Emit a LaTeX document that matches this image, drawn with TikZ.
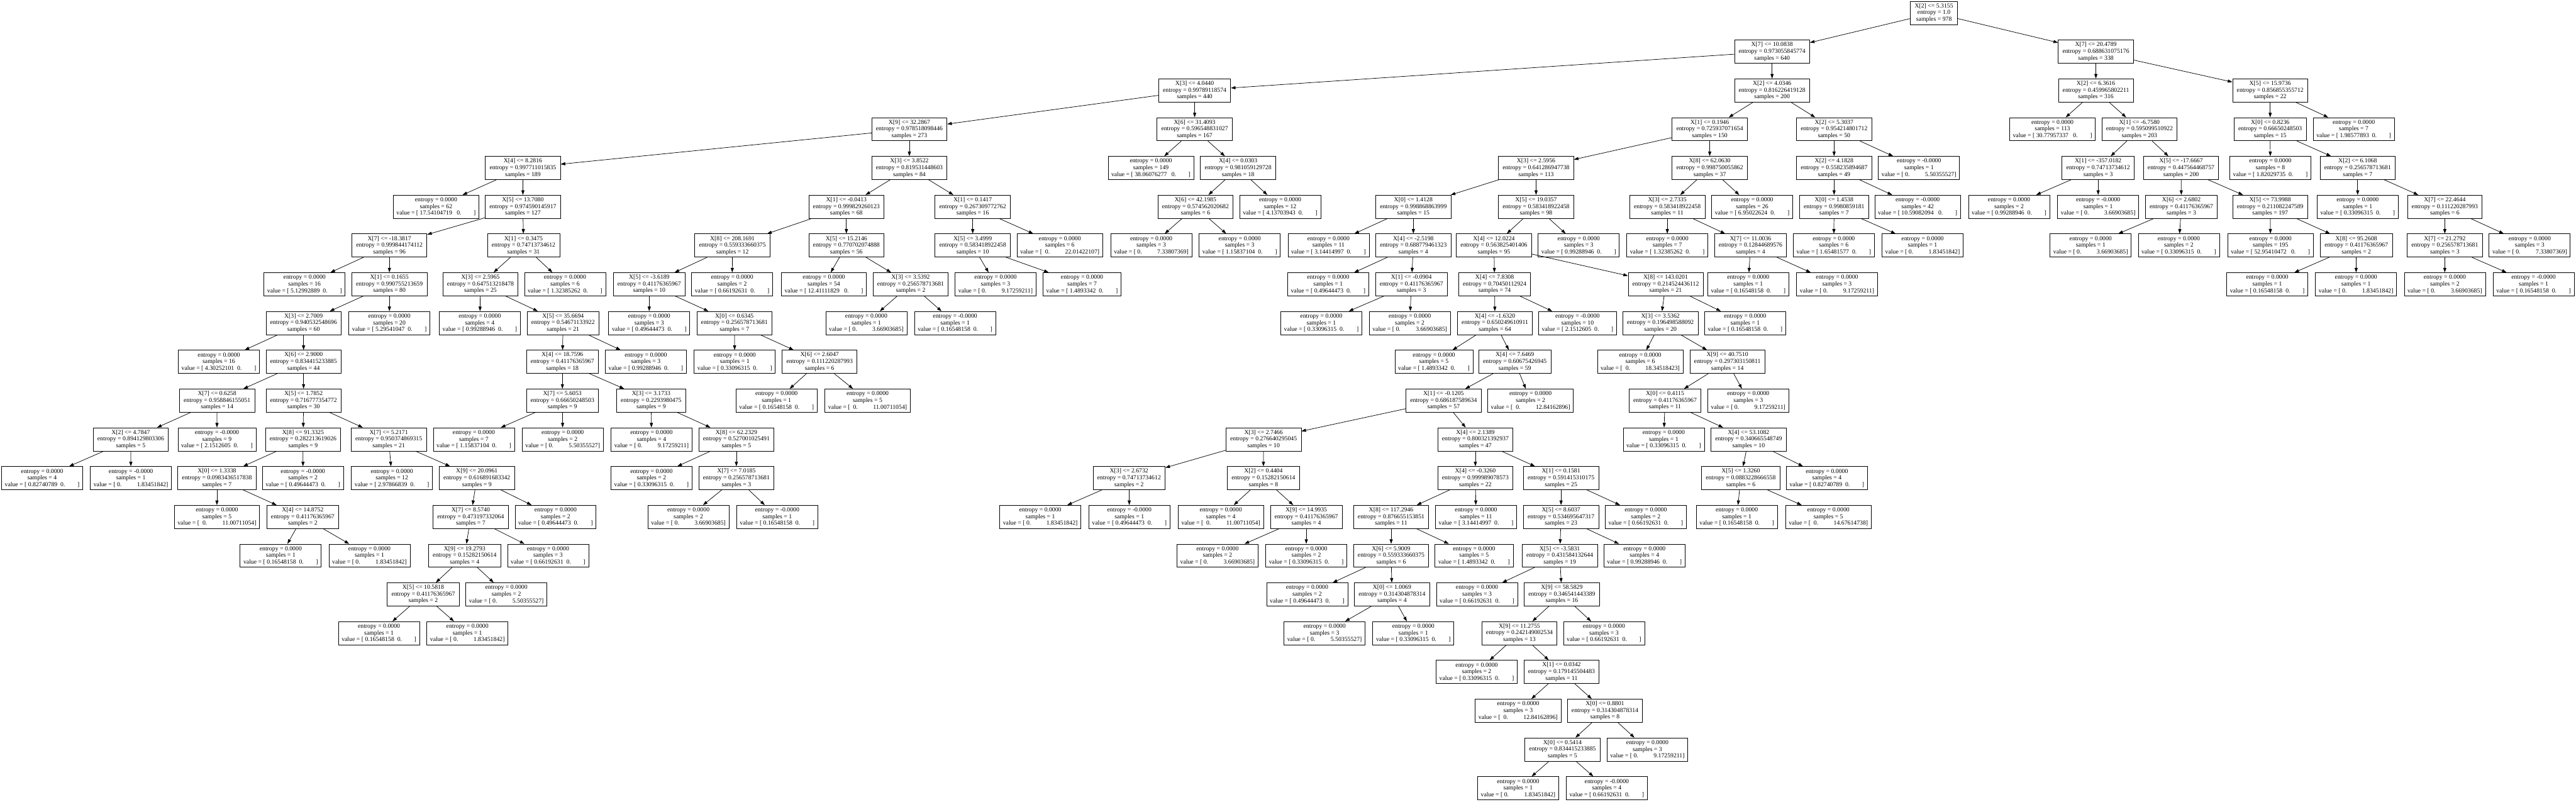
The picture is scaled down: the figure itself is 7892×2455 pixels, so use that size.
\documentclass[tikz,border=0pt]{standalone}
\usepackage{fontspec}
\setmainfont{Liberation Serif}
\usetikzlibrary{arrows.meta}
\newcommand{\TSp}[1]{\kern#1\fontdimen2\font}
\newcommand{\TDn}[3]{#1\\entropy = #2\\samples = #3}
\newcommand{\TLa}[3]{entropy = #1\\samples = #2\\value = [\TSp{1}#3\TSp{2}0.\TSp{8}]}
\newcommand{\TLb}[3]{entropy = #1\\samples = #2\\value = [\TSp{1}#3\TSp{3}0.\TSp{8}]}
\newcommand{\TRa}[3]{entropy = #1\\samples = #2\\value = [\TSp{1}0.\TSp{10}#3]}
\newcommand{\TRb}[3]{entropy = #1\\samples = #2\\value = [\TSp{2}0.\TSp{10}#3]}
\tikzset{
  tn/.style={draw=black, line width=0.4pt, rectangle, align=center, inner ysep=0pt,
    minimum height=0.71cm, font=\fontsize{5.35}{5.83}\selectfont},
  dn/.style={tn, inner xsep=0.13cm},
  lf/.style={tn, inner xsep=0.1cm},
  ed/.style={-{Triangle[length=0.14cm,width=0.095cm]}, line width=0.4pt},
}
\begin{document}
\begin{tikzpicture}[x=0.01cm, y=-0.01cm]
\useasboundingbox (0,0) rectangle (7892,2455);
% level 0
\node[dn, minimum width=1.39cm] (r) at (5925,39.5) {\TDn{X[2] <= 5.3155}{1.0}{978}};
% level 1
\node[dn] (a) at (5429,158.25) {\TDn{X[7] <= 10.0838}{0.973055845774}{640}};
\node[dn] (b) at (6421,158.25) {\TDn{X[7] <= 20.4789}{0.688631075176}{338}};
% level 2
\node[dn] (aa) at (3660,277) {\TDn{X[3] <= 4.0440}{0.99789118574}{440}};
\node[dn] (ab) at (5429,277) {\TDn{X[2] <= 4.0346}{0.816226419128}{200}};
\node[dn] (ba) at (6421,277) {\TDn{X[2] <= 6.3616}{0.459965802211}{316}};
\node[dn] (bb) at (6955,277) {\TDn{X[5] <= 15.9736}{0.856855355712}{22}};
% level 3
\node[dn] (aaa) at (2786,395.75) {\TDn{X[9] <= 32.2867}{0.978518098446}{273}};
\node[dn] (aab) at (3660,395.75) {\TDn{X[6] <= 31.4093}{0.596548831027}{167}};
\node[dn] (aba) at (5238,395.75) {\TDn{X[1] <= 0.1946}{0.725937071654}{150}};
\node[dn] (abb) at (5619,395.75) {\TDn{X[2] <= 5.3037}{0.954214801712}{50}};
\node[lf] (baa) at (6288,395.75) {\TLb{0.0000}{113}{30.77957337}};
\node[dn] (bab) at (6554.5,395.75) {\TDn{X[1] <= -6.7580}{0.595099510922}{203}};
\node[dn] (bba) at (6955,395.75) {\TDn{X[0] <= 0.8236}{0.66650248503}{15}};
\node[lf] (bbb) at (7211,395.75) {\TLa{0.0000}{7}{1.98577893}};
% level 4
\node[dn] (c1) at (1602,514.5) {\TDn{X[4] <= 8.2816}{0.997711015835}{189}};
\node[dn] (c2) at (2786,514.5) {\TDn{X[3] <= 3.8522}{0.819531448603}{84}};
\node[lf] (c3) at (3526,514.5) {\TLb{0.0000}{149}{38.06076277}};
\node[dn] (c4) at (3793,514.5) {\TDn{X[4] <= 0.0303}{0.981059129728}{18}};
\node[dn] (c5) at (4706,514.5) {\TDn{X[3] <= 2.5956}{0.641286947738}{113}};
\node[dn] (c6) at (5238,514.5) {\TDn{X[8] <= 62.0630}{0.998750055862}{37}};
\node[dn] (c7) at (5619,514.5) {\TDn{X[2] <= 4.1828}{0.558235894687}{49}};
\node[lf] (c8) at (5879,514.5) {\TRa{-0.0000}{1}{5.50355527}};
\node[dn] (c9) at (6428,514.5) {\TDn{X[1] <= -357.0182}{0.74713734612}{3}};
\node[dn] (c10) at (6682,514.5) {\TDn{X[5] <= -17.6667}{0.447564468757}{200}};
\node[lf] (c11) at (6955.5,514.5) {\TLa{0.0000}{8}{1.82029735}};
\node[dn] (c12) at (7223,514.5) {\TDn{X[2] <= 6.1068}{0.256578713681}{7}};
% level 5
\node[lf] (d1) at (1336,633.25) {\TLb{0.0000}{62}{17.54104719}};
\node[dn] (d2) at (1602,633.25) {\TDn{X[5] <= 13.7080}{0.974590145917}{127}};
\node[dn] (d3) at (2593,633.25) {\TDn{X[1] <= -0.0413}{0.999829260123}{68}};
\node[dn] (d4) at (2980,633.25) {\TDn{X[1] <= 0.1417}{0.267309772762}{16}};
\node[dn] (d5) at (3662.5,633.25) {\TDn{X[6] <= 42.1985}{0.574562020682}{6}};
\node[lf] (d6) at (3922,633.25) {\TLa{0.0000}{12}{4.13703943}};
\node[dn] (d7) at (4330,633.25) {\TDn{X[0] <= 1.4128}{0.998868863999}{15}};
\node[dn] (d8) at (4706,633.25) {\TDn{X[5] <= 19.0357}{0.583418922458}{98}};
\node[dn] (d9) at (5108,633.25) {\TDn{X[3] <= 2.7335}{0.583418922458}{11}};
\node[lf] (d10) at (5368,633.25) {\TLa{0.0000}{26}{6.95022624}};
\node[dn] (d11) at (5619,633.25) {\TDn{X[0] <= 1.4538}{0.9980859181}{7}};
\node[lf] (d12) at (5875,633.25) {\TLb{-0.0000}{42}{10.59082094}};
\node[lf] (d13) at (6155,633.25) {\TLa{0.0000}{2}{0.99288946}};
\node[lf] (d14) at (6428,633.25) {\TRa{-0.0000}{1}{3.66903685}};
\node[dn] (d15) at (6683,633.25) {\TDn{X[6] <= 2.6802}{0.41176365967}{3}};
\node[dn] (d16) at (6955,633.25) {\TDn{X[5] <= 73.9988}{0.211082247589}{197}};
\node[lf] (d17) at (7223,633.25) {\TLa{0.0000}{1}{0.33096315}};
\node[dn] (d18) at (7490,633.25) {\TDn{X[7] <= 22.4644}{0.111220287993}{6}};
% level 6
\node[dn] (e1) at (1193,752) {\TDn{X[7] <= -18.3817}{0.999844174112}{96}};
\node[dn] (e2) at (1604,752) {\TDn{X[1] <= 0.3475}{0.74713734612}{31}};
\node[dn] (e3) at (2244,752) {\TDn{X[8] <= 208.1691}{0.559333660375}{12}};
\node[dn] (e4) at (2593,752) {\TDn{X[5] <= 15.2146}{0.770702074888}{56}};
\node[dn] (e5) at (2980,752) {\TDn{X[5] <= 3.4999}{0.583418922458}{10}};
\node[lf] (e6) at (3247,752) {\TRb{0.0000}{6}{22.01422107}};
\node[lf] (e7) at (3527,752) {\TRa{0.0000}{3}{7.33807369}};
\node[lf] (e8) at (3798,752) {\TLa{0.0000}{3}{1.15837104}};
\node[lf] (e9) at (4070,752) {\TLa{0.0000}{11}{3.14414997}};
\node[dn] (e10) at (4330,752) {\TDn{X[4] <= -2.5198}{0.688779461323}{4}};
\node[dn] (e11) at (4577,752) {\TDn{X[4] <= 12.0224}{0.563825401406}{95}};
\node[lf] (e12) at (4836.6,752) {\TLa{0.0000}{3}{0.99288946}};
\node[lf] (e13) at (5108,752) {\TLa{0.0000}{7}{1.32385262}};
\node[dn] (e14) at (5363,752) {\TDn{X[7] <= 11.0036}{0.12844689576}{4}};
\node[lf] (e15) at (5618,752) {\TLa{0.0000}{6}{1.65481577}};
\node[lf] (e16) at (5890,752) {\TRa{0.0000}{1}{1.83451842}};
\node[lf] (e17) at (6405,752) {\TRa{0.0000}{1}{3.66903685}};
\node[lf] (e18) at (6675,752) {\TLa{0.0000}{2}{0.33096315}};
\node[lf] (e19) at (6956,752) {\TLb{0.0000}{195}{52.95410472}};
\node[dn] (e20) at (7219,752) {\TDn{X[8] <= 95.2608}{0.41176365967}{2}};
\node[dn] (e21) at (7490,752) {\TDn{X[7] <= 21.2792}{0.256578713681}{3}};
\node[lf] (e22) at (7750,752) {\TRa{0.0000}{3}{7.33807369}};
% level 7
\node[lf] (f1) at (933,870.75) {\TLa{0.0000}{16}{5.12992889}};
\node[dn] (f2) at (1193,870.75) {\TDn{X[1] <= 0.1655}{0.990755213659}{80}};
\node[dn] (f3) at (1472,870.75) {\TDn{X[3] <= 2.5965}{0.647513218478}{25}};
\node[lf] (f4) at (1731,870.75) {\TLa{0.0000}{6}{1.32385262}};
\node[dn] (f5) at (1989,870.75) {\TDn{X[5] <= -3.6189}{0.41176365967}{10}};
\node[lf] (f6) at (2243,870.75) {\TLa{0.0000}{2}{0.66192631}};
\node[lf] (f7) at (2524,870.75) {\TLb{0.0000}{54}{12.41111829}};
\node[dn] (f8) at (2790,870.75) {\TDn{X[3] <= 3.5392}{0.256578713681}{2}};
\node[lf] (f9) at (3050,870.75) {\TRa{0.0000}{3}{9.17259211}};
\node[lf] (f10) at (3315,870.75) {\TLa{0.0000}{7}{1.4893342}};
\node[lf] (f11) at (4069,870.75) {\TLa{0.0000}{1}{0.49644473}};
\node[dn] (f12) at (4324,870.75) {\TDn{X[1] <= -0.0904}{0.41176365967}{3}};
\node[dn] (f13) at (4579,870.75) {\TDn{X[4] <= 7.8308}{0.70450112924}{74}};
\node[dn] (f14) at (5103,870.75) {\TDn{X[8] <= 143.0201}{0.214524436112}{21}};
\node[lf] (f15) at (5356,870.75) {\TLa{0.0000}{1}{0.16548158}};
\node[lf] (f16) at (5628,870.75) {\TRa{0.0000}{3}{9.17259211}};
\node[lf] (f17) at (6946,870.75) {\TLa{0.0000}{1}{0.16548158}};
\node[lf] (f18) at (7218,870.75) {\TRa{0.0000}{1}{1.83451842}};
\node[lf] (f19) at (7490,870.75) {\TRa{0.0000}{2}{3.66903685}};
\node[lf] (f20) at (7762,870.75) {\TLa{-0.0000}{1}{0.16548158}};
% level 8
\node[dn] (g1) at (930,989.5) {\TDn{X[3] <= 2.7009}{0.940532548696}{60}};
\node[lf] (g2) at (1193,989.5) {\TLa{0.0000}{20}{5.29541047}};
\node[lf] (g3) at (1470,989.5) {\TLa{0.0000}{4}{0.99288946}};
\node[dn] (g4) at (1725,989.5) {\TDn{X[5] <= 35.6694}{0.54671133922}{21}};
\node[lf] (g5) at (1989,989.5) {\TLa{0.0000}{3}{0.49644473}};
\node[dn] (g6) at (2250,989.5) {\TDn{X[0] <= 0.6345}{0.256578713681}{7}};
\node[lf] (g7) at (2654,989.5) {\TRa{0.0000}{1}{3.66903685}};
\node[lf] (g8) at (2926,989.5) {\TLa{-0.0000}{1}{0.16548158}};
\node[lf] (g9) at (4048,989.5) {\TLa{0.0000}{1}{0.33096315}};
\node[lf] (g10) at (4319,989.5) {\TRa{0.0000}{2}{3.66903685}};
\node[dn] (g11) at (4580,989.5) {\TDn{X[4] <= -1.6320}{0.650249610911}{64}};
\node[lf] (g12) at (4833,989.5) {\TLa{-0.0000}{10}{2.1512605}};
\node[dn] (g13) at (5087,989.5) {\TDn{X[3] <= 3.5362}{0.196498588092}{20}};
\node[lf] (g14) at (5346.5,989.5) {\TLa{0.0000}{1}{0.16548158}};
% level 9
\node[lf] (h1) at (670.5,1108.25) {\TLa{0.0000}{16}{4.30252101}};
\node[dn] (h2) at (930,1108.25) {\TDn{X[6] <= 2.9000}{0.834415233885}{44}};
\node[dn] (h3) at (1723,1108.25) {\TDn{X[4] <= 18.7596}{0.41176365967}{18}};
\node[lf] (h4) at (1978.6,1108.25) {\TLa{0.0000}{3}{0.99288946}};
\node[lf] (h5) at (2251,1108.25) {\TLa{0.0000}{1}{0.33096315}};
\node[dn] (h6) at (2511,1108.25) {\TDn{X[6] <= 2.6047}{0.111220287993}{6}};
\node[lf] (h7) at (4393,1108.25) {\TLa{0.0000}{5}{1.4893342}};
\node[dn] (h8) at (4641,1108.25) {\TDn{X[4] <= 7.6469}{0.60675426945}{59}};
\node[lf] (h9) at (5025,1108.25) {\TRb{0.0000}{6}{18.34518423}};
\node[dn] (h10) at (5292,1108.25) {\TDn{X[9] <= 40.7510}{0.297303150811}{14}};
% level 10
\node[dn] (i1) at (665,1227) {\TDn{X[7] <= 0.6258}{0.958846155051}{14}};
\node[dn] (i2) at (930,1227) {\TDn{X[5] <= 1.7852}{0.716777354772}{30}};
\node[dn] (i3) at (1723,1227) {\TDn{X[7] <= 5.6053}{0.66650248503}{9}};
\node[dn] (i4) at (1995,1227) {\TDn{X[3] <= 3.1733}{0.2293980475}{9}};
\node[lf] (i5) at (2379,1227) {\TLa{0.0000}{1}{0.16548158}};
\node[lf] (i6) at (2658,1227) {\TRb{0.0000}{5}{11.00711054}};
\node[dn] (i7) at (4422.5,1227) {\TDn{X[1] <= -0.1205}{0.686187589634}{57}};
\node[lf] (i8) at (4689,1227) {\TRb{0.0000}{2}{12.84162896}};
\node[dn] (i9) at (5101,1227) {\TDn{X[0] <= 0.4115}{0.41176365967}{11}};
\node[lf] (i10) at (5356,1227) {\TRa{0.0000}{3}{9.17259211}};
% level 11
\node[dn] (j1) at (400.6,1345.75) {\TDn{X[2] <= 4.7847}{0.894129803306}{5}};
\node[lf] (j2) at (664.6,1345.75) {\TLa{-0.0000}{9}{2.1512605}};
\node[dn] (j3) at (928.6,1345.75) {\TDn{X[8] <= 91.3325}{0.282213619026}{9}};
\node[dn] (j4) at (1191,1345.75) {\TDn{X[7] <= 5.2171}{0.950374869315}{21}};
\node[lf] (j5) at (1451.7,1345.75) {\TLa{0.0000}{7}{1.15837104}};
\node[lf] (j6) at (1724,1345.75) {\TRa{0.0000}{2}{5.50355527}};
\node[lf] (j7) at (1996,1345.75) {\TRa{0.0000}{4}{9.17259211}};
\node[dn] (j8) at (2256,1345.75) {\TDn{X[8] <= 62.2329}{0.527001025491}{5}};
\node[dn] (j9) at (3871,1345.75) {\TDn{X[3] <= 2.7466}{0.276640295045}{10}};
\node[dn] (j10) at (4520,1345.75) {\TDn{X[4] <= 2.1389}{0.800321392937}{47}};
\node[lf] (j11) at (5097,1345.75) {\TLa{0.0000}{1}{0.33096315}};
\node[dn] (j12) at (5357,1345.75) {\TDn{X[4] <= 53.1082}{0.340665548749}{10}};
% level 12
\node[lf] (k1) at (129,1464.5) {\TLa{0.0000}{4}{0.82740789}};
\node[lf] (k2) at (401,1464.5) {\TRa{-0.0000}{1}{1.83451842}};
\node[dn] (k3) at (664.6,1464.5) {\TDn{X[0] <= 1.3338}{0.0983436517838}{7}};
\node[lf] (k4) at (928,1464.5) {\TLa{-0.0000}{2}{0.49644473}};
\node[lf] (k5) at (1200.7,1464.5) {\TLa{0.0000}{12}{2.97866839}};
\node[dn] (k6) at (1461,1464.5) {\TDn{X[9] <= 20.0961}{0.616891683342}{9}};
\node[lf] (k7) at (1996,1464.5) {\TLa{0.0000}{2}{0.33096315}};
\node[dn] (k8) at (2256,1464.5) {\TDn{X[7] <= 7.0185}{0.256578713681}{3}};
\node[dn] (k9) at (3459,1464.5) {\TDn{X[3] <= 2.6732}{0.74713734612}{2}};
\node[dn] (k10) at (3870.6,1464.5) {\TDn{X[2] <= 0.4404}{0.15282150614}{8}};
\node[dn] (k11) at (4520,1464.5) {\TDn{X[4] <= -0.3260}{0.999989078573}{22}};
\node[dn] (k12) at (4782.5,1464.5) {\TDn{X[1] <= 0.1581}{0.591415310175}{25}};
\node[dn] (k13) at (5333,1464.5) {\TDn{X[5] <= 1.3260}{0.0883228666558}{6}};
\node[lf] (k14) at (5597,1464.5) {\TLa{0.0000}{4}{0.82740789}};
% level 13
\node[lf] (l1) at (664.6,1583.25) {\TRb{0.0000}{5}{11.00711054}};
\node[dn] (l2) at (927.5,1583.25) {\TDn{X[4] <= 14.8752}{0.41176365967}{2}};
\node[dn] (l3) at (1442,1583.25) {\TDn{X[7] <= 8.5740}{0.473197332064}{7}};
\node[lf] (l4) at (1702,1583.25) {\TLa{0.0000}{2}{0.49644473}};
\node[lf] (l5) at (2109,1583.25) {\TRa{0.0000}{2}{3.66903685}};
\node[lf] (l6) at (2381,1583.25) {\TLa{-0.0000}{1}{0.16548158}};
\node[lf] (l7) at (3187,1583.25) {\TRa{0.0000}{1}{1.83451842}};
\node[lf] (l8) at (3460,1583.25) {\TLa{-0.0000}{1}{0.49644473}};
\node[lf] (l9) at (3740,1583.25) {\TRb{0.0000}{4}{11.00711054}};
\node[dn] (l10) at (4002,1583.25) {\TDn{X[9] <= 14.9935}{0.41176365967}{4}};
\node[dn] (l11) at (4262,1583.25) {\TDn{X[8] <= 117.2946}{0.876655153851}{11}};
\node[lf] (l12) at (4522,1583.25) {\TLa{0.0000}{11}{3.14414997}};
\node[dn] (l13) at (4782.5,1583.25) {\TDn{X[5] <= 8.6037}{0.534695647317}{23}};
\node[lf] (l14) at (5042,1583.25) {\TLa{0.0000}{2}{0.66192631}};
\node[lf] (l15) at (5321,1583.25) {\TLa{0.0000}{1}{0.16548158}};
\node[lf] (l16) at (5601.5,1583.25) {\TRb{0.0000}{5}{14.67614738}};
% level 14
\node[lf] (m1) at (860,1702) {\TLa{0.0000}{1}{0.16548158}};
\node[lf] (m2) at (1132,1702) {\TRa{0.0000}{1}{1.83451842}};
\node[dn] (m3) at (1423.5,1702) {\TDn{X[9] <= 19.2793}{0.15282150614}{4}};
\node[lf] (m4) at (1679,1702) {\TLa{0.0000}{3}{0.66192631}};
\node[lf] (m5) at (3730,1702) {\TRa{0.0000}{2}{3.66903685}};
\node[lf] (m6) at (4002,1702) {\TLa{0.0000}{2}{0.33096315}};
\node[dn] (m7) at (4262,1702) {\TDn{X[6] <= 5.9009}{0.559333660375}{6}};
\node[lf] (m8) at (4516,1702) {\TLa{0.0000}{5}{1.4893342}};
\node[dn] (m9) at (4778.5,1702) {\TDn{X[5] <= -3.5831}{0.431584132644}{19}};
\node[lf] (m10) at (5038,1702) {\TLa{0.0000}{4}{0.99288946}};
% level 15
\node[dn] (n1) at (1296.6,1820.75) {\TDn{X[5] <= 10.5818}{0.41176365967}{2}};
\node[lf] (n2) at (1551.4,1820.75) {\TRa{0.0000}{2}{5.50355527}};
\node[lf] (n3) at (4004.6,1820.75) {\TLa{0.0000}{2}{0.49644473}};
\node[dn] (n4) at (4264.6,1820.75) {\TDn{X[0] <= 1.0069}{0.314304878314}{4}};
\node[lf] (n5) at (4525,1820.75) {\TLa{0.0000}{3}{0.66192631}};
\node[dn] (n6) at (4785,1820.75) {\TDn{X[9] <= 58.5829}{0.346541443389}{16}};
% level 16
\node[lf] (o1) at (1161,1939.5) {\TLa{0.0000}{1}{0.16548158}};
\node[lf] (o2) at (1432,1939.5) {\TRa{0.0000}{1}{1.83451842}};
\node[lf] (o3) at (4058,1939.5) {\TRa{0.0000}{3}{5.50355527}};
\node[lf] (o4) at (4330,1939.5) {\TLa{0.0000}{1}{0.33096315}};
\node[dn] (o5) at (4655,1939.5) {\TDn{X[9] <= 11.2755}{0.242149002534}{13}};
\node[lf] (o6) at (4914,1939.5) {\TLa{0.0000}{3}{0.66192631}};
% level 17
\node[lf] (p1) at (4524,2058.25) {\TLa{0.0000}{2}{0.33096315}};
\node[dn] (p2) at (4784,2058.25) {\TDn{X[1] <= 0.0342}{0.179145504483}{11}};
% level 18
\node[lf] (q1) at (4651,2177) {\TRb{0.0000}{3}{12.84162896}};
\node[dn] (q2) at (4917,2177) {\TDn{X[0] <= 0.8801}{0.314304878314}{8}};
% level 19
\node[dn] (s1) at (4787,2295.75) {\TDn{X[0] <= 0.5414}{0.834415233885}{5}};
\node[lf] (s2) at (5047,2295.75) {\TRa{0.0000}{3}{9.17259211}};
% level 20
\node[lf] (t1) at (4651,2414.5) {\TRa{0.0000}{1}{1.83451842}};
\node[lf] (t2) at (4922.6,2414.5) {\TLa{-0.0000}{4}{0.66192631}};
% edges
\foreach \p/\c in {r/a, r/b, a/aa, a/ab, b/ba, b/bb,
  aa/aaa, aa/aab, ab/aba, ab/abb, ba/baa, ba/bab, bb/bba, bb/bbb,
  aaa/c1, aaa/c2, aab/c3, aab/c4, aba/c5, aba/c6, abb/c7, abb/c8,
  bab/c9, bab/c10, bba/c11, bba/c12,
  c1/d1, c1/d2, c2/d3, c2/d4, c4/d5, c4/d6, c5/d7, c5/d8, c6/d9, c6/d10,
  c7/d11, c7/d12, c9/d13, c9/d14, c10/d15, c10/d16, c12/d17, c12/d18,
  d2/e1, d2/e2, d3/e3, d3/e4, d4/e5, d4/e6, d5/e7, d5/e8, d7/e9, d7/e10,
  d8/e11, d8/e12, d9/e13, d9/e14, d11/e15, d11/e16, d15/e17, d15/e18,
  d16/e19, d16/e20, d18/e21, d18/e22,
  e1/f1, e1/f2, e2/f3, e2/f4, e3/f5, e3/f6, e4/f7, e4/f8, e5/f9, e5/f10,
  e10/f11, e10/f12, e11/f13, e11/f14, e14/f15, e14/f16, e20/f17, e20/f18,
  e21/f19, e21/f20,
  f2/g1, f2/g2, f3/g3, f3/g4, f5/g5, f5/g6, f8/g7, f8/g8, f12/g9, f12/g10,
  f13/g11, f13/g12, f14/g13, f14/g14,
  g1/h1, g1/h2, g4/h3, g4/h4, g6/h5, g6/h6, g11/h7, g11/h8, g13/h9, g13/h10,
  h2/i1, h2/i2, h3/i3, h3/i4, h6/i5, h6/i6, h8/i7, h8/i8, h10/i9, h10/i10,
  i1/j1, i1/j2, i2/j3, i2/j4, i3/j5, i3/j6, i4/j7, i4/j8, i7/j9, i7/j10,
  i9/j11, i9/j12,
  j1/k1, j1/k2, j3/k3, j3/k4, j4/k5, j4/k6, j8/k7, j8/k8, j9/k9, j9/k10,
  j10/k11, j10/k12, j12/k13, j12/k14,
  k3/l1, k3/l2, k6/l3, k6/l4, k8/l5, k8/l6, k9/l7, k9/l8, k10/l9, k10/l10,
  k11/l11, k11/l12, k12/l13, k12/l14, k13/l15, k13/l16,
  l2/m1, l2/m2, l3/m3, l3/m4, l10/m5, l10/m6, l11/m7, l11/m8, l13/m9, l13/m10,
  m3/n1, m3/n2, m7/n3, m7/n4, m9/n5, m9/n6,
  n1/o1, n1/o2, n4/o3, n4/o4, n6/o5, n6/o6,
  o5/p1, o5/p2, p2/q1, p2/q2, q2/s1, q2/s2, s1/t1, s1/t2}
  \draw[ed] (\p) -- (\c);
\end{tikzpicture}
\end{document}
